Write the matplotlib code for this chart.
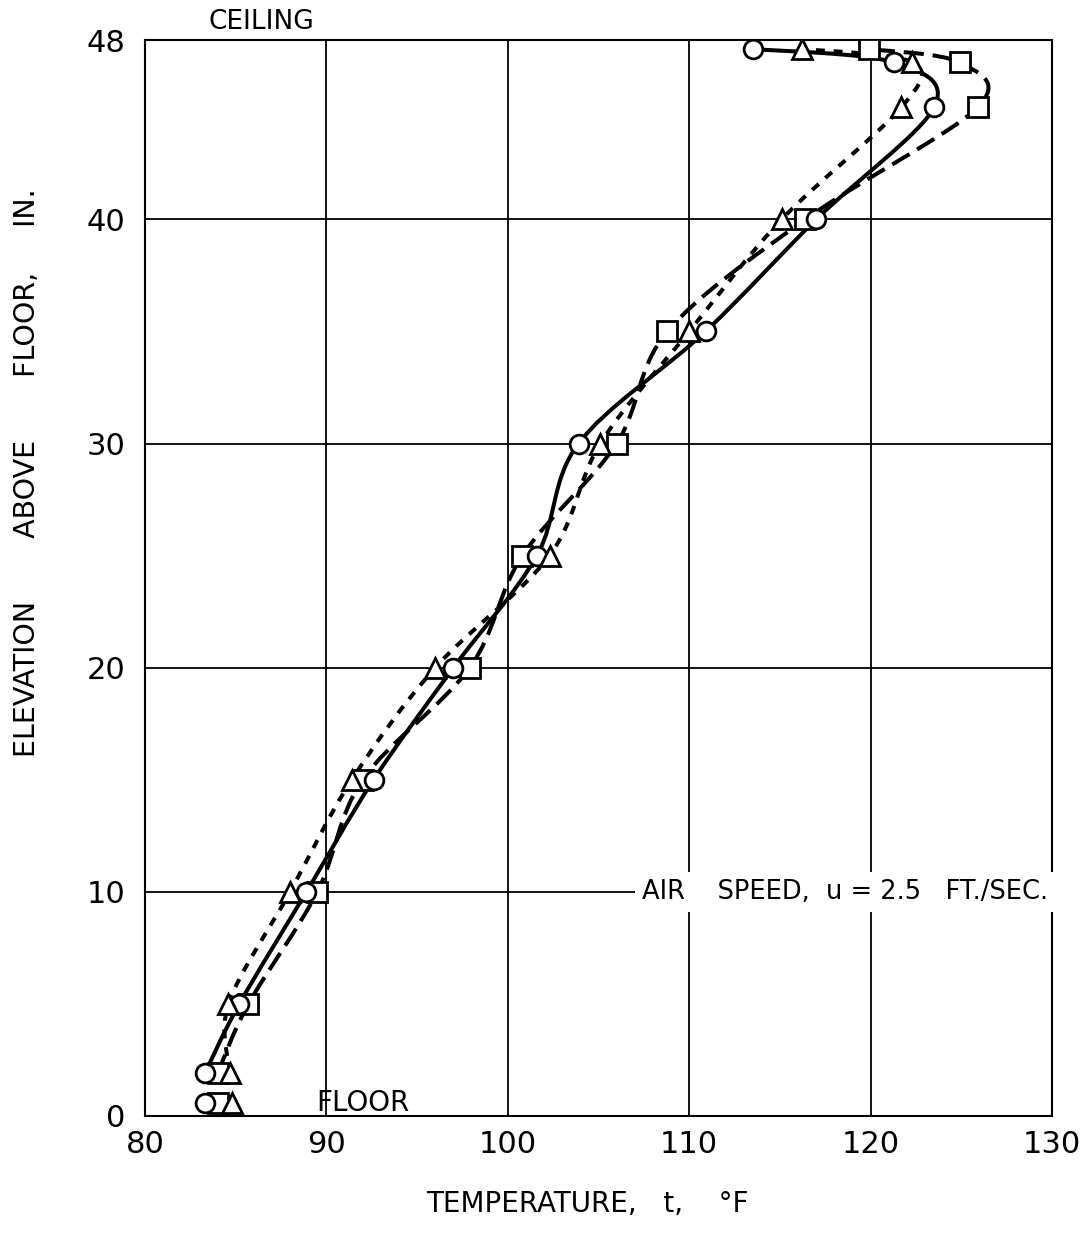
import numpy as np
import matplotlib
matplotlib.use('Agg')
import matplotlib.pyplot as plt
from matplotlib.path import Path
from matplotlib.patches import PathPatch

plt.rcParams['font.family'] = ['DejaVu Sans']

# elevation above floor, in.
elev = [0.6, 1.9, 5, 10, 15, 20, 25, 30, 35, 40, 45.0, 47.0, 47.6]

# temperatures, deg F
t_circle = [83.3, 83.3, 85.2, 88.9, 92.6, 97.0, 101.6, 103.9, 110.9, 117.0, 123.5, 121.3, 113.5]
t_triangle = [84.8, 84.7, 84.6, 88.0, 91.4, 96.0, 102.3, 105.1, 110.0, 115.1, 121.7, 122.3, 116.2]
t_square = [84.0, 84.0, 85.7, 89.5, 92.0, 97.9, 100.8, 106.0, 108.8, 116.4, 125.9, 124.9, 119.9]

xticks = [80, 90, 100, 110, 120, 130]
yticks = [0, 10, 20, 30, 40, 48]


def smooth_path(x, y):
    # catmull-rom through the points, as cubic bezier pieces
    p = np.column_stack([x, y])
    n = len(p)
    verts = [p[0]]
    codes = [Path.MOVETO]
    for i in range(n - 1):
        p0 = p[max(i - 1, 0)]
        p1 = p[i]
        p2 = p[i + 1]
        p3 = p[min(i + 2, n - 1)]
        verts += [p1 + (p2 - p0) / 6.0, p2 - (p3 - p1) / 6.0, p2]
        codes += [Path.CURVE4] * 3
    return Path(verts, codes)


fig = plt.figure(figsize=(10.92, 12.39), dpi=100)
ax = fig.add_axes([0.1328, 0.0993, 0.8306, 0.8684])

series = [
    (t_square, 's', (0, (5, 2.2)), 14.5, 4),
    (t_circle, 'o', '-', 13.5, 5),
    (t_triangle, '^', (0, (2.2, 2.2)), 14.5, 6),
]
for t, m, ls, ms, z in series:
    # line starts at the 1.9 in. point, as in the original
    ax.add_patch(PathPatch(smooth_path(t[1:], elev[1:]), fill=False,
                           edgecolor='black', lw=2.9, ls=ls, zorder=3))
for t, m, ls, ms, z in series:
    ax.plot(t, elev, ls='none', marker=m, ms=ms, mfc='white', mec='black',
            mew=2.0, zorder=z)

ax.set_xlim(80, 130)
ax.set_ylim(0, 48)
ax.set_xticks(xticks)
ax.set_yticks(yticks)
ax.tick_params(axis='x', length=0, labelsize=22, pad=10)
ax.tick_params(axis='y', length=0, labelsize=22, pad=14)
ax.grid(True, color='black', lw=1.3)
for s in ax.spines.values():
    s.set_linewidth(1.5)

ax.text(83.5, 48.8, 'CEILING', fontsize=19, ha='left', va='center', clip_on=False)
ax.text(92.0, 0.6, 'FLOOR', fontsize=20, ha='center', va='center')
ax.text(129.8, 10, 'AIR    SPEED,  u = 2.5   FT./SEC.', fontsize=18.5, ha='right',
        va='center', bbox=dict(facecolor='white', edgecolor='none', pad=5),
        zorder=7)

ax.set_xlabel('TEMPERATURE,   t,    °F', fontsize=20)
ax.xaxis.set_label_coords(0.488, -0.069)
ax.set_ylabel('ELEVATION       ABOVE       FLOOR,     IN.', fontsize=20.5)
ax.yaxis.set_label_coords(-0.115, 0.598)

fig.savefig('out.png', dpi=100)
